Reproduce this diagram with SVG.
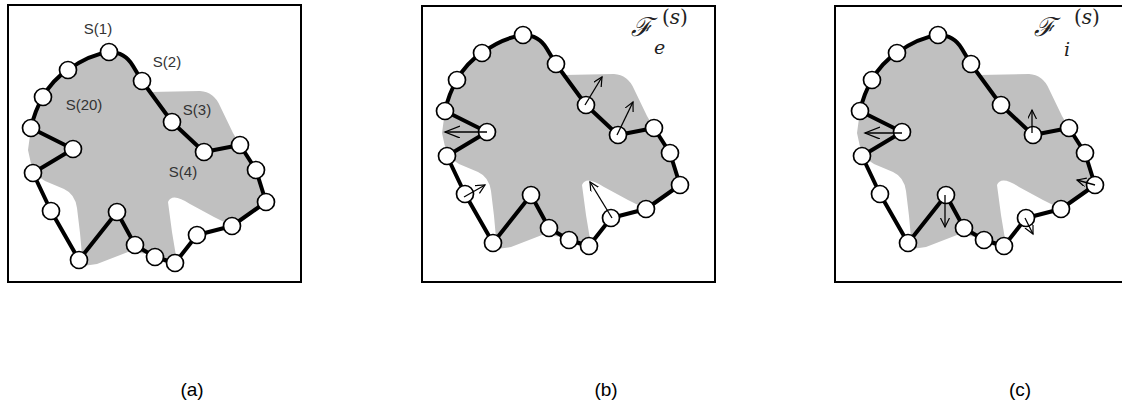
<svg xmlns="http://www.w3.org/2000/svg" xmlns:xlink="http://www.w3.org/1999/xlink" width="1122" height="407" viewBox="0 0 1122 407">
<style>
.frame{fill:#fff;stroke:#000;stroke-width:2}
.blob{fill:#c0c0c0;stroke:none}
.contour{fill:none;stroke:#000;stroke-width:4;stroke-linejoin:round}
.node{fill:#fff;stroke:#000;stroke-width:1.7}
.arr{fill:none;stroke:#000;stroke-width:1.3}
.lbl{font-family:"Liberation Sans",Arial,sans-serif;font-size:15px;fill:#333;text-anchor:middle}
.cap{font-family:"Liberation Sans",Arial,sans-serif;font-size:19px;fill:#000;text-anchor:middle}
.math{font-family:"DejaVu Serif","Liberation Serif",serif;fill:#222}
</style>
<defs>
<marker id="ah" markerWidth="12" markerHeight="12" refX="9" refY="4.5" orient="auto" markerUnits="userSpaceOnUse">
<path d="M0,0 L9,4.5 L0,9" fill="none" stroke="#000" stroke-width="1.2"/>
</marker>
<marker id="ahL" markerWidth="18" markerHeight="14" refX="15" refY="6" orient="auto" markerUnits="userSpaceOnUse">
<path d="M0,0 L15,6 L0,12" fill="none" stroke="#000" stroke-width="1.3"/>
</marker>
<g id="shape">
<path class="blob" d="M109,52 Q126,54 133,67 L150,92 L200,91 Q214,92 220,106 L233,133 L240,145 L256,170 L266,202 L232,226 Q224,222 214,217 L190,204 Q172,192 168,202 L172,232 L177,262 L165,263 L150,254 L128,252 L97,264 L83,266 L80,233 L77,208 Q75,194 64,189 L45,181 L33,173 L28,150 L31,128 Q35,110 43,97 Q52,80 68,70 Q88,55 109,52 Z"/>
<path class="contour" d="M31,128 Q35,110 43,97 Q52,80 68,70 Q88,55 109,52 Q125,52 133,66 L142,81 L172,122 L204,152 L240,145 L256,170 L266,202 L232,226 L197,235 L175,263 L155,257 L135,245 L117,212 L79,260 L51,211 L33,173 L73,149 Z"/>
<g class="nodes">
<circle class="node" cx="109" cy="52" r="8.5"/>
<circle class="node" cx="142" cy="81" r="8.5"/>
<circle class="node" cx="172" cy="122" r="8.5"/>
<circle class="node" cx="204" cy="152" r="8.5"/>
<circle class="node" cx="240" cy="145" r="8.5"/>
<circle class="node" cx="256" cy="170" r="8.5"/>
<circle class="node" cx="266" cy="202" r="8.5"/>
<circle class="node" cx="232" cy="226" r="8.5"/>
<circle class="node" cx="197" cy="235" r="8.5"/>
<circle class="node" cx="175" cy="263" r="8.5"/>
<circle class="node" cx="155" cy="257" r="8.5"/>
<circle class="node" cx="135" cy="245" r="8.5"/>
<circle class="node" cx="117" cy="212" r="8.5"/>
<circle class="node" cx="79" cy="260" r="8.5"/>
<circle class="node" cx="51" cy="211" r="8.5"/>
<circle class="node" cx="33" cy="173" r="8.5"/>
<circle class="node" cx="73" cy="149" r="8.5"/>
<circle class="node" cx="31" cy="128" r="8.5"/>
<circle class="node" cx="43" cy="97" r="8.5"/>
<circle class="node" cx="68" cy="70" r="8.5"/>
</g>
</g>
</defs>

<g id="panel-a">
<rect class="frame" x="8" y="5" width="293" height="277"/>
<use xlink:href="#shape" href="#shape"/>
<g id="labels-a">
<text class="lbl" x="98" y="34">S(1)</text>
<text class="lbl" x="167" y="67">S(2)</text>
<text class="lbl" x="84" y="110">S(20)</text>
<text class="lbl" x="197" y="115">S(3)</text>
<text class="lbl" x="183" y="177">S(4)</text>
</g>
</g>

<g id="panel-b">
<rect class="frame" x="422" y="6" width="293" height="276"/>
<use xlink:href="#shape" href="#shape" transform="translate(414,-17)"/>
<g id="arrows-b">
<line class="arr" x1="487" y1="132" x2="445" y2="132" marker-end="url(#ahL)"/>
<line class="arr" x1="585" y1="105" x2="602" y2="77" marker-end="url(#ah)"/>
<line class="arr" x1="617" y1="135" x2="633" y2="102" marker-end="url(#ah)"/>
<line class="arr" x1="464" y1="197" x2="485" y2="185" marker-end="url(#ah)"/>
<line class="arr" x1="612" y1="218" x2="590" y2="182" marker-end="url(#ah)"/>
</g>
<text class="math" x="631" y="36" font-size="26" font-style="italic">ℱ</text>
<text class="math" x="654" y="54" font-size="19" font-style="italic">e</text>
<text class="math" x="662" y="24" font-size="20">(<tspan font-style="italic">s</tspan>)</text>
</g>

<g id="panel-c">
<rect class="frame" x="835" y="6" width="300" height="276"/>
<use xlink:href="#shape" href="#shape" transform="translate(829,-17)"/>
<g id="arrows-c">
<line class="arr" x1="902" y1="133" x2="865" y2="133" marker-end="url(#ahL)"/>
<line class="arr" x1="1032" y1="133" x2="1032" y2="110" marker-end="url(#ah)"/>
<line class="arr" x1="945" y1="195" x2="945" y2="227" marker-end="url(#ah)"/>
<line class="arr" x1="1025" y1="218" x2="1033" y2="234" marker-end="url(#ah)"/>
<line class="arr" x1="1095" y1="185" x2="1077" y2="180" marker-end="url(#ah)"/>
</g>
<text class="math" x="1034" y="36" font-size="26" font-style="italic">ℱ</text>
<text class="math" x="1064" y="56" font-size="19" font-style="italic">i</text>
<text class="math" x="1074" y="24" font-size="20">(<tspan font-style="italic">s</tspan>)</text>
</g>

<g id="captions">
<text class="cap" x="192" y="396">(a)</text>
<text class="cap" x="606" y="396">(b)</text>
<text class="cap" x="1020" y="396">(c)</text>
</g>
</svg>
